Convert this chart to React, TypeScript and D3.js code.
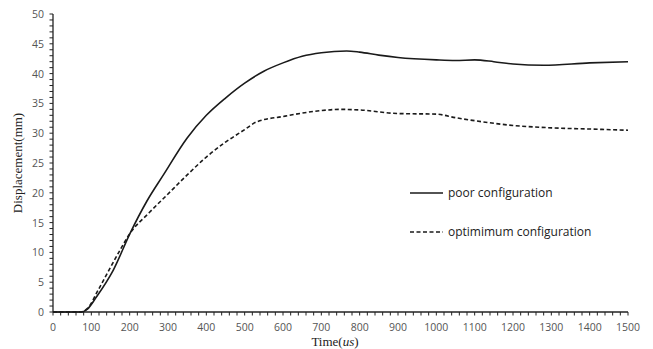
import React from "react";
import * as d3 from "d3";

const poorT = [0, 72, 90, 114, 157, 201, 244, 288, 350, 400, 450, 500, 550, 600, 650, 700, 766, 800, 850, 900, 1000, 1050, 1100, 1150, 1200, 1280, 1400, 1500];
const poorV = [0, 0, 0.5, 2.6, 7.0, 13.2, 18.5, 23.0, 29.2, 33.0, 35.9, 38.4, 40.4, 41.8, 42.9, 43.5, 43.8, 43.6, 43.1, 42.7, 42.3, 42.2, 42.3, 42.0, 41.6, 41.4, 41.8, 42.0];
const optT = [0, 70, 90, 118, 150, 175, 201, 250, 300, 350, 400, 450, 500, 531, 600, 700, 750, 800, 900, 1000, 1050, 1100, 1200, 1300, 1400, 1500];
const optV = [0, 0, 0.6, 3.7, 7.5, 10.4, 13.2, 16.6, 19.8, 23.0, 26.0, 28.5, 30.6, 31.9, 32.8, 33.8, 34.0, 33.9, 33.3, 33.2, 32.6, 32.1, 31.3, 30.9, 30.7, 30.5];
const xTicks = d3.range(0, 1501, 100);
const yTicks = d3.range(0, 51, 5);
const legendLabels = ["poor configuration", "optimimum configuration"];

export default function App() {
  const W = 653, H = 349;
  const x = d3.scaleLinear().domain([0, 1500]).range([53, 628]);
  const y = d3.scaleLinear().domain([0, 50]).range([312, 14]);
  const line = d3.line<[number, number]>().x(d => x(d[0])).y(d => y(d[1])).curve(d3.curveMonotoneX);
  const poor = poorT.map((t, i) => [t, poorV[i]] as [number, number]);
  const opt = optT.map((t, i) => [t, optV[i]] as [number, number]);
  const tickFont = "'Open Sans', 'Noto Sans', sans-serif";
  return (
    <svg width={W} height={H} style={{ position: "absolute", left: 0, top: 0, background: "#fff" }}>
      <rect width={W} height={H} fill="#fff" />
      <line x1={x(0)} x2={x(1500)} y1={y(0)} y2={y(0)} stroke="#222" strokeWidth={1.3} />
      <line x1={x(0)} x2={x(0)} y1={y(0)} y2={y(50)} stroke="#222" strokeWidth={1.3} />
      {d3.range(0, 1501, 20).map(t => (
        <line key={"xt" + t} x1={x(t)} x2={x(t)} y1={y(0)} y2={y(0) + 3.5} stroke="#222" strokeWidth={1} />
      ))}
      {d3.range(0, 51, 1).map(v => (
        <line key={"yt" + v} x1={x(0) - 3.5} x2={x(0)} y1={y(v)} y2={y(v)} stroke="#222" strokeWidth={1} />
      ))}
      {xTicks.map(t => (
        <text key={"xl" + t} x={x(t)} y={331} textAnchor="middle" fontSize={10.5} fill="#555" fontFamily={tickFont}>{t}</text>
      ))}
      {yTicks.map(v => (
        <text key={"yl" + v} x={44} y={y(v) + 4} textAnchor="end" fontSize={10.5} fill="#555" fontFamily={tickFont}>{v}</text>
      ))}
      <text x={335} y={346} textAnchor="middle" fontSize={13} fill="#222" fontFamily="'Liberation Serif', 'DejaVu Serif', serif">
        Time(<tspan fontStyle="italic">us</tspan>)
      </text>
      <text transform={`translate(22,163) rotate(-90)`} textAnchor="middle" fontSize={13} fill="#222" fontFamily="'Liberation Serif', 'DejaVu Serif', serif">
        Displacement(mm)
      </text>
      <path d={line(poor) || ""} fill="none" stroke="#1a1a1a" strokeWidth={1.6} />
      <path d={line(opt) || ""} fill="none" stroke="#1a1a1a" strokeWidth={1.6} strokeDasharray="4,2.5" />
      <line x1={410} x2={443} y1={193} y2={193} stroke="#1a1a1a" strokeWidth={1.6} />
      <text x={448} y={197} fontSize={12} fill="#222" fontFamily={tickFont}>{legendLabels[0]}</text>
      <line x1={410} x2={443} y1={232} y2={232} stroke="#1a1a1a" strokeWidth={1.6} strokeDasharray="4,2.5" />
      <text x={448} y={236} fontSize={12} fill="#222" fontFamily={tickFont}>{legendLabels[1]}</text>
    </svg>
  );
}
